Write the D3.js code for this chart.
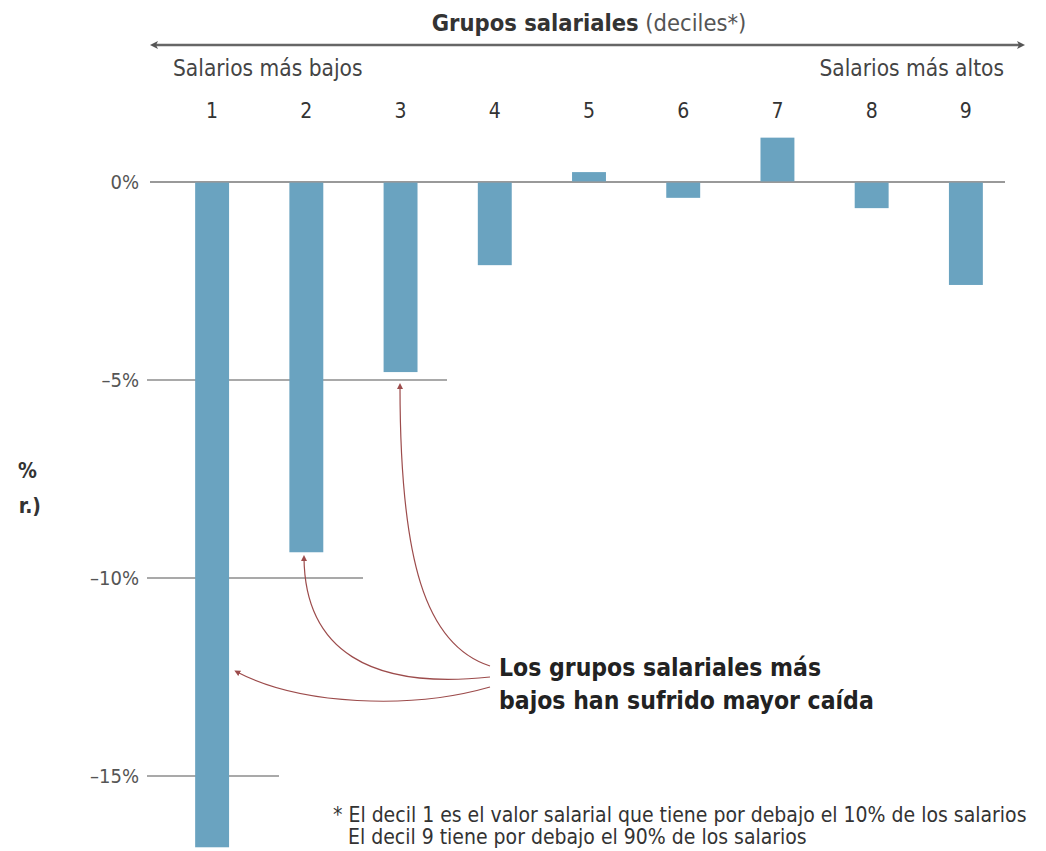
<!DOCTYPE html>
<html>
<head>
<meta charset="utf-8">
<script src="https://cdn.jsdelivr.net/npm/d3@7"></script>
<style>
body { margin:0; background:#fff; }
text { font-family: "Liberation Sans Narrow", "DejaVu Sans Condensed", "Open Sans", sans-serif; }
</style>
</head>
<body>
<div id="chart"></div>
<script>
// deciles y variacion (%)
var deciles = [1,2,3,4,5,6,7,8,9];
var values = [-16.8,-9.35,-4.8,-2.1,0.25,-0.4,1.12,-0.66,-2.6];
var yTicks = [0,-5,-10,-15];
var titleBold = "Grupos salariales";
var titleRest = " (deciles*)";
var leftLabel = "Salarios más bajos";
var rightLabel = "Salarios más altos";
var noteLines = ["Los grupos salariales más","bajos han sufrido mayor caída"];
var footLines = ["* El decil 1 es el valor salarial que tiene por debajo el 10% de los salarios","El decil 9 tiene por debajo el 90% de los salarios"];

var svgWidth = 1046, svgHeight = 851;
var svg = d3.select("#chart").append("svg").attr("width",svgWidth).attr("height",svgHeight);

var xScale = d3.scaleBand().domain(deciles).range([165,1013]).paddingInner(0.64).paddingOuter(0.32);
var yScale = d3.scaleLinear().domain([0,-15]).range([182,776]);

// gridlines (cortas)
var gridEnd = {"0":1005,"-5":447,"-10":363,"-15":279};
svg.append("g").selectAll("line").data(yTicks).enter().append("line")
    .attr("x1",d=>d===0?150:147).attr("x2",d=>gridEnd[d])
    .attr("y1",d=>yScale(d)).attr("y2",d=>yScale(d))
    .attr("stroke",d=>d===0?"#999":"#555").attr("stroke-width",d=>d===0?2:1.2);

// bars
svg.append("g").selectAll("rect").data(values).enter().append("rect")
    .attr("x",(d,i)=>xScale(deciles[i]))
    .attr("width",xScale.bandwidth())
    .attr("y",d=>yScale(Math.max(0,d)))
    .attr("height",d=>Math.abs(yScale(d)-yScale(0)))
    .attr("fill","#6aa3c0");

// redraw zero line over bars
svg.append("line").attr("x1",150).attr("x2",1005).attr("y1",yScale(0)).attr("y2",yScale(0))
    .attr("stroke","#999").attr("stroke-width",2).attr("opacity",0.6);

// y axis
var leftAxis = d3.axisLeft(yScale).tickValues(yTicks).tickSize(0).tickPadding(11)
    .tickFormat(d=>d===0?"0%":"\u2013"+Math.abs(d)+"%");
var gy = svg.append("g").attr("transform","translate(150,0)").call(leftAxis);
gy.select(".domain").remove();
gy.selectAll("text").attr("font-size",20).attr("fill","#555")
    .style("font-family",'"Liberation Sans Narrow","DejaVu Sans Condensed",sans-serif');

// top axis with decile numbers
var topAxis = d3.axisTop(xScale).tickSize(0).tickPadding(0);
var gx = svg.append("g").attr("transform","translate(0,118)").call(topAxis);
gx.select(".domain").remove();
gx.selectAll("text").attr("font-size",21).attr("fill","#333")
    .style("font-family",'"Liberation Sans Narrow","DejaVu Sans Condensed",sans-serif');

// title
var t = svg.append("text").attr("x",589).attr("y",31).attr("text-anchor","middle").attr("font-size",23.5).attr("fill","#333");
t.append("tspan").attr("font-weight","bold").text(titleBold);
t.append("tspan").attr("fill","#555").text(titleRest);

// double arrow
svg.append("line").attr("x1",155).attr("x2",1020).attr("y1",45).attr("y2",45).attr("stroke","#666").attr("stroke-width",2.5);
svg.append("path").attr("d","M150,45 L158,41 L156,45 L158,49 Z").attr("fill","#555");
svg.append("path").attr("d","M1025,45 L1017,41 L1019,45 L1017,49 Z").attr("fill","#555");

svg.append("text").attr("x",173).attr("y",76).attr("font-size",22.5).attr("fill","#444").text(leftLabel);
svg.append("text").attr("x",1004).attr("y",76).attr("text-anchor","end").attr("font-size",22.5).attr("fill","#444").text(rightLabel);

// cut y label on the left
svg.append("text").attr("x",37).attr("y",478).attr("text-anchor","end").attr("font-size",21).attr("font-weight","bold").attr("fill","#333").text("%");
svg.append("text").attr("x",41).attr("y",513).attr("text-anchor","end").attr("font-size",21).attr("font-weight","bold").attr("fill","#333").text("r.)");

// annotation
svg.append("g").selectAll("text").data(noteLines).enter().append("text")
    .attr("x",499).attr("y",(d,i)=>676+i*33).attr("font-size",24.5).attr("font-weight","bold").attr("fill","#222").text(d=>d);

var red = "#9c4b4b";
svg.append("defs").append("marker").attr("id","ah").attr("viewBox","0 0 10 10").attr("refX",5).attr("refY",5)
    .attr("markerWidth",5).attr("markerHeight",5).attr("orient","auto-start-reverse")
    .append("path").attr("d","M0,0 L10,5 L0,10 Z").attr("fill",red);
var curves = [
  "M490,666 C425,645 400,560 400,386",
  "M490,677 C370,690 305,650 304,558",
  "M490,687 C410,710 300,705 237,672"
];
svg.append("g").selectAll("path").data(curves).enter().append("path")
    .attr("d",d=>d).attr("fill","none").attr("stroke",red).attr("stroke-width",1.2)
    .attr("marker-end","url(#ah)");

// footnote
svg.append("g").selectAll("text").data(footLines).enter().append("text")
    .attr("x",(d,i)=>i===0?333:348).attr("y",(d,i)=>822+i*22).attr("font-size",21).attr("fill","#333").text(d=>d);
</script>
</body>
</html>
